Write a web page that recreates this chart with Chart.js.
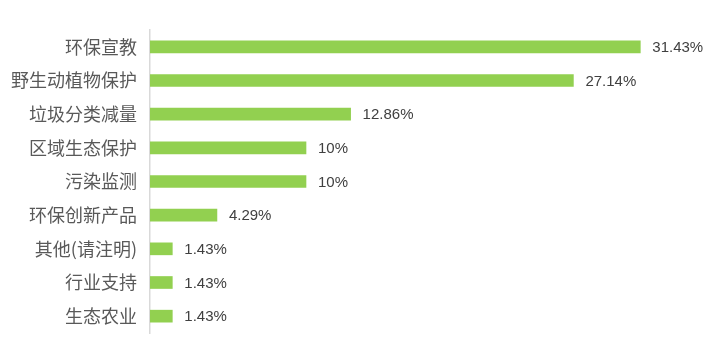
<!DOCTYPE html>
<html><head><meta charset="utf-8">
<script src="https://cdn.jsdelivr.net/npm/chart.js@4.4.0/dist/chart.umd.min.js"></script>
<style>html,body{margin:0;padding:0;background:#fff;}#wrap{width:716px;height:346px;position:relative;}</style>
</head><body><div id="wrap"><canvas id="c" width="716" height="346"></canvas></div>
<script>
const categories = ["环保宣教","野生动植物保护","垃圾分类减量","区域生态保护","污染监测","环保创新产品","其他(请注明)","行业支持","生态农业"];
const values = [31.43, 27.14, 12.86, 10, 10, 4.29, 1.43, 1.43, 1.43];
const valueLabels = ["31.43%","27.14%","12.86%","10%","10%","4.29%","1.43%","1.43%","1.43%"];

const labelPlugin = {
  id: 'valueLabels',
  afterDatasetsDraw(chart) {
    const ctx = chart.ctx;
    const meta = chart.getDatasetMeta(0);
    ctx.save();
    ctx.font = '15px "Liberation Sans", Arial, sans-serif';
    ctx.fillStyle = '#404040';
    ctx.textAlign = 'left';
    ctx.textBaseline = 'middle';
    meta.data.forEach((bar, i) => {
      ctx.fillText(valueLabels[i], bar.x + 12, bar.y + 1);
    });
    ctx.restore();
  }
};

new Chart(document.getElementById('c'), {
  type: 'bar',
  data: {
    labels: categories,
    datasets: [{
      data: values,
      backgroundColor: '#92D050',
      borderWidth: 0,
      barThickness: 12
    }]
  },
  options: {
    indexAxis: 'y',
    responsive: false,
    animation: false,
    layout: { padding: { top: 30, bottom: 13, right: 20, left: 0 } },
    plugins: { legend: { display: false }, tooltip: { enabled: false } },
    scales: {
      x: { display: false, min: 0, max: 35 },
      y: {
        afterFit(s) { s.width = 150; s.paddingTop = 0; s.paddingBottom = 0; },
        grid: { display: false, drawTicks: false },
        border: { display: true, color: '#D9D9D9', width: 1.5 },
        ticks: {
          padding: 13,
          color: '#595959',
          font: { family: '"Noto Sans CJK SC", sans-serif', size: 18 }
        }
      }
    }
  },
  plugins: [labelPlugin]
});
</script></body></html>
